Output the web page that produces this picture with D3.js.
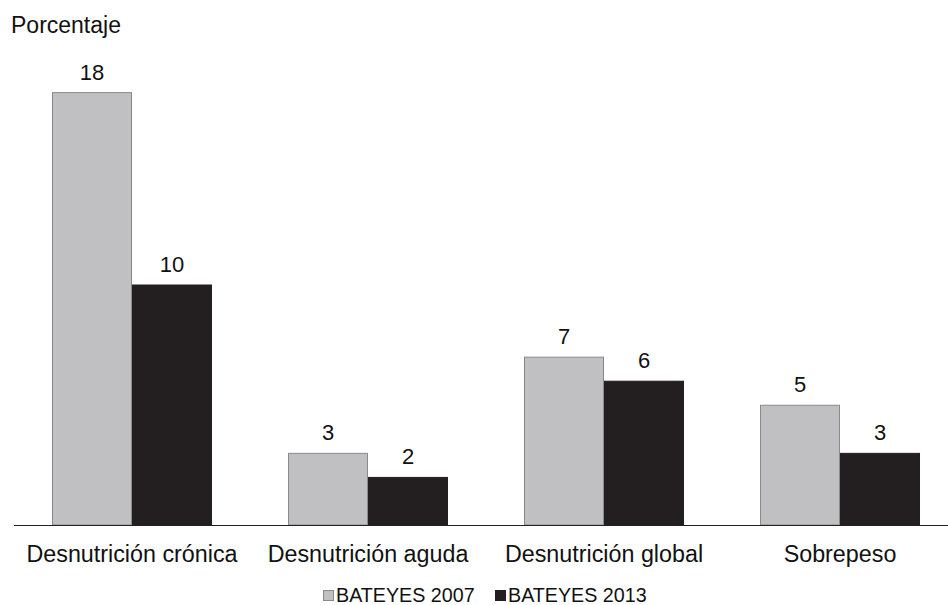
<!DOCTYPE html>
<html>
<head>
<meta charset="utf-8">
<script src="https://cdn.jsdelivr.net/npm/d3@7"></script>
<style>
  html, body { margin: 0; padding: 0; background: #fff; }
  svg { display: block; font-family: "Liberation Sans", Arial, sans-serif; }
</style>
</head>
<body>
<svg id="chart" width="948" height="605"></svg>
<script>
// Categories and series values
const categories = ["Desnutrición crónica", "Desnutrición aguda", "Desnutrición global", "Sobrepeso"];
const seriesNames = ["BATEYES 2007", "BATEYES 2013"];
const values2007 = [18, 3, 7, 5];
const values2013 = [10, 2, 6, 3];
const yAxisTitle = "Porcentaje";

const colors = { "BATEYES 2007": "#c0c0c3", "BATEYES 2013": "#231f20" };
const strokes = { "BATEYES 2007": "#8a8a8c", "BATEYES 2013": "#231f20" };

const W = 948, H = 605;
const baseY = 525;
const svg = d3.select("#chart");

const rows = categories.map((c, i) => ({
  cat: c,
  vals: [
    { series: seriesNames[0], v: values2007[i] },
    { series: seriesNames[1], v: values2013[i] }
  ]
}));

const x0 = d3.scaleBand().domain(categories).range([14, 958]).padding(0);
const x1 = d3.scaleBand().domain(seriesNames).range([38, x0.bandwidth() - 38]).padding(0);
const y = d3.scaleLinear().domain([0, 18]).range([baseY, baseY - 18 * 24.05]);

// Bars
const groups = svg.append("g").selectAll("g").data(rows).join("g")
  .attr("transform", d => `translate(${x0(d.cat)},0)`);

groups.selectAll("rect").data(d => d.vals).join("rect")
  .attr("x", d => x1(d.series) + 0.5)
  .attr("y", d => y(d.v) + 0.5)
  .attr("width", x1.bandwidth() - 1)
  .attr("height", d => y(0) - y(d.v) - 0.5)
  .attr("fill", d => colors[d.series])
  .attr("stroke", d => strokes[d.series])
  .attr("stroke-width", 1);

// Value labels
groups.selectAll("text").data(d => d.vals).join("text")
  .attr("x", d => x1(d.series) + x1.bandwidth() / 2)
  .attr("y", d => y(d.v) - 12.5)
  .attr("text-anchor", "middle")
  .attr("font-size", 22)
  .attr("fill", "#111")
  .text(d => d.v);

// Baseline axis
svg.append("line")
  .attr("x1", 14).attr("x2", W)
  .attr("y1", baseY + 0.5).attr("y2", baseY + 0.5)
  .attr("stroke", "#222").attr("stroke-width", 1.2);

// Category labels
svg.append("g").selectAll("text").data(categories).join("text")
  .attr("x", d => x0(d) + x0.bandwidth() / 2)
  .attr("y", 562)
  .attr("text-anchor", "middle")
  .attr("font-size", 23.3)
  .attr("fill", "#111")
  .text(d => d);

// Y axis title
svg.append("text")
  .attr("x", 11).attr("y", 33)
  .attr("font-size", 23)
  .attr("fill", "#111")
  .text(yAxisTitle);

// Legend
const legend = svg.append("g");
const legendItems = [
  { name: seriesNames[0], x: 323 },
  { name: seriesNames[1], x: 495 }
];
legendItems.forEach(it => {
  legend.append("rect")
    .attr("x", it.x + 0.5).attr("y", 590.5)
    .attr("width", 10).attr("height", 10)
    .attr("fill", colors[it.name])
    .attr("stroke", strokes[it.name]);
  legend.append("text")
    .attr("x", it.x + 13).attr("y", 601.5)
    .attr("font-size", 19.7)
    .attr("fill", "#111")
    .text(it.name);
});
</script>
</body>
</html>
